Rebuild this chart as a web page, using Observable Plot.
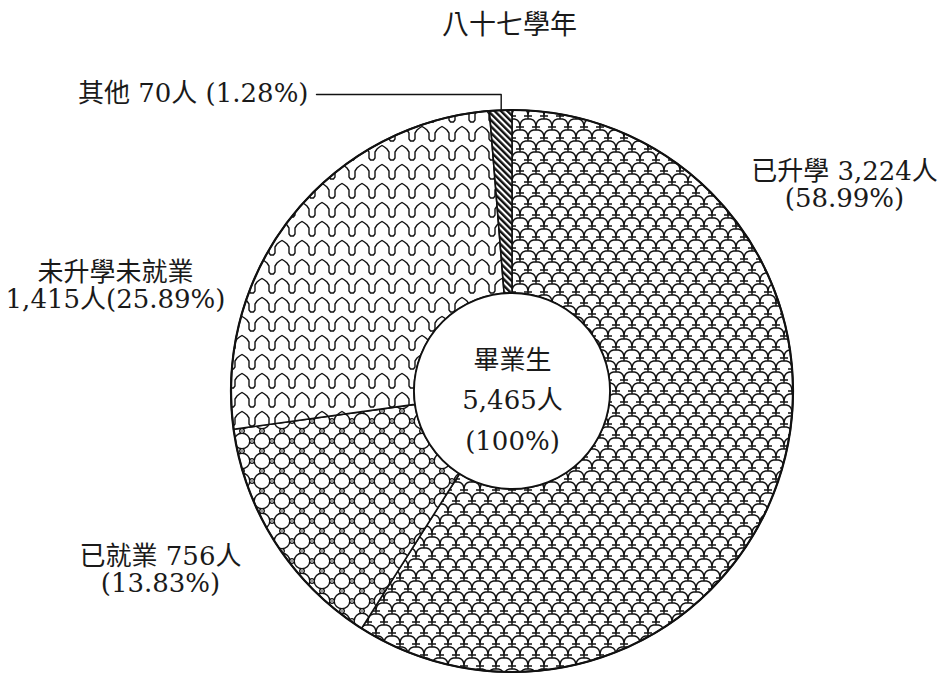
<!DOCTYPE html>
<html><head><meta charset="utf-8">
<script src="https://cdn.jsdelivr.net/npm/d3@7"></script>
<script src="https://cdn.jsdelivr.net/npm/@observablehq/plot@0.6"></script>
<style>body{margin:0;background:#fff}#chart{width:951px;height:675px}</style>
</head><body><div id="chart"></div>
<script>
// ---- data ----
const title = "八十七學年";
const categories = ["已升學", "已就業", "未升學未就業", "其他"];
const counts = [3224, 756, 1415, 70];
const centerName = "畢業生";
const unit = "人";

// ---- layout ----
const W = 951, H = 675;
const center = [512, 391];
const outerR = 281, innerR = 98;
const FONT = "'DejaVu Serif', 'Noto Sans CJK TC', serif";
const labelPos = {
  "已升學": {x: 844, y: 184, mode: "nameCount/pct"},
  "已就業": {x: 160, y: 569, mode: "nameCount/pct"},
  "未升學未就業": {x: 115, y: 285, mode: "name/countPct"},
  "其他": {x: 308, y: 93, mode: "oneLine"}
};

const total = d3.sum(counts);
const fmt = d3.format(",");
const pct = v => (v / total * 100).toFixed(2) + "%";
const rows = categories.map((c, i) => ({name: c, value: counts[i]}));

function labelText(r) {
  const p = labelPos[r.name];
  const n = fmt(r.value) + unit, q = "(" + pct(r.value) + ")";
  if (p.mode === "nameCount/pct") return `${r.name} ${n}\n${q}`;
  if (p.mode === "name/countPct") return `${r.name}\n${n}${q}`;
  return `${r.name} ${n} ${q}`;
}

const pie = d3.pie().sort(null).value(d => d.value);
const arcs = pie(rows);
const patternIds = ["pScale", "pRing", "pWave", "pStripe"];

function scaleUnit(cx, cy) {
  return `M${cx-8},${cy+11} Q${cx-8},${cy+4} ${cx-2.5},${cy+3} L${cx+2.5},${cy+3} Q${cx+8},${cy+4} ${cx+8},${cy+11} ` +
         `M${cx-4},${cy} L${cx+4},${cy} M${cx},${cy} L${cx},${cy+3}`;
}

function donutMark(index, scales) {
  const sx = scales && scales.x ? scales.x : (v => v);
  const sy = scales && scales.y ? scales.y : (v => v);
  const cx = sx(center[0]), cy = sy(center[1]);
  const R = sx(center[0] + outerR) - cx, r0 = sx(center[0] + innerR) - cx;
  const g = d3.create("svg:g");
  const defs = g.append("defs");
  // scales pattern
  const p1 = defs.append("pattern").attr("id", "pScale").attr("patternUnits", "userSpaceOnUse")
    .attr("width", 16).attr("height", 22);
  p1.append("rect").attr("width", 16).attr("height", 22).attr("fill", "white");
  p1.append("path").attr("d", [[8,0],[0,11],[16,11],[8,22],[0,-11],[16,-11],[8,-22]].map(([a,b]) => scaleUnit(a,b)).join(" "))
    .attr("fill", "none").attr("stroke", "#111").attr("stroke-width", 1.4);
  // ring pattern
  const p2 = defs.append("pattern").attr("id", "pRing").attr("patternUnits", "userSpaceOnUse")
    .attr("width", 20).attr("height", 20);
  p2.append("rect").attr("width", 20).attr("height", 20).attr("fill", "white");
  p2.append("circle").attr("cx", 10).attr("cy", 10).attr("r", 7.8).attr("fill", "none").attr("stroke", "#111").attr("stroke-width", 1.4);
  for (const [a, b] of [[0,10],[20,10],[10,0],[10,20]]) {
    p2.append("circle").attr("cx", a).attr("cy", b).attr("r", 2.3).attr("fill", "white").attr("stroke", "#111").attr("stroke-width", 1.3);
    p2.append("circle").attr("cx", a).attr("cy", b).attr("r", 0.8).attr("fill", "#111");
  }
  // wave pattern
  const p3 = defs.append("pattern").attr("id", "pWave").attr("patternUnits", "userSpaceOnUse")
    .attr("width", 20).attr("height", 19);
  p3.append("rect").attr("width", 20).attr("height", 19).attr("fill", "white");
  p3.append("path").attr("d", "M-3,14 L-1.5,16 L1.5,16 L3,14 L3,8 L5,5 L7.5,3 L10,1.5 L12.5,3 L15,5 L17,8 L17,14 L18.5,16 L21.5,16 L23,14")
    .attr("fill", "none").attr("stroke", "#111").attr("stroke-width", 1.4).attr("stroke-linejoin", "miter");
  // stripe pattern
  const p4 = defs.append("pattern").attr("id", "pStripe").attr("patternUnits", "userSpaceOnUse")
    .attr("width", 4.5).attr("height", 10).attr("patternTransform", "rotate(-45)");
  p4.append("rect").attr("width", 4.5).attr("height", 10).attr("fill", "white");
  p4.append("rect").attr("width", 2.4).attr("height", 10).attr("fill", "#111");

  const arc = d3.arc().innerRadius(r0).outerRadius(R);
  const gg = g.append("g").attr("transform", `translate(${cx},${cy})`);
  gg.selectAll("path.slice").data(arcs).join("path")
    .attr("d", arc)
    .attr("fill", (d, i) => `url(#${patternIds[i]})`)
    .attr("stroke", "#111").attr("stroke-width", 1.6).attr("stroke-linejoin", "round");
  gg.append("circle").attr("r", R).attr("fill", "none").attr("stroke", "#111").attr("stroke-width", 2.2);
  gg.append("circle").attr("r", r0).attr("fill", "white").attr("stroke", "#111").attr("stroke-width", 1.8);
  return g.node();
}

// leader line for the smallest slice
const other = arcs[3];
const mid = (other.startAngle + other.endAngle) / 2;
const tip = [center[0] + outerR * Math.sin(mid), center[1] - outerR * Math.cos(mid)];
const leader = [
  {x: labelPos["其他"].x + 8, y: labelPos["其他"].y + 1},
  {x: tip[0], y: labelPos["其他"].y + 1},
  {x: tip[0], y: tip[1]}
];

const sideLabels = rows.map(r => ({...r, text: labelText(r), ...labelPos[r.name]}));

const chart = Plot.plot({
  width: W, height: H,
  marginTop: 0, marginRight: 0, marginBottom: 0, marginLeft: 0,
  x: {domain: [0, W], axis: null},
  y: {domain: [0, H], reverse: true, axis: null},
  style: {background: "white", fontFamily: FONT, color: "#1a1a1a"},
  marks: [
    donutMark,
    Plot.line(leader, {x: "x", y: "y", stroke: "#111", strokeWidth: 1.4, curve: "linear"}),
    Plot.text(sideLabels.filter(d => d.mode !== "oneLine"), {
      x: "x", y: "y", text: "text", fontSize: 26, fill: "#1a1a1a", lineHeight: 1.06, textAnchor: "middle"
    }),
    Plot.text(sideLabels.filter(d => d.mode === "oneLine"), {
      x: "x", y: "y", text: "text", fontSize: 26, fill: "#1a1a1a", textAnchor: "end"
    }),
    Plot.text([{x: 509, y: 25, t: title}], {x: "x", y: "y", text: "t", fontSize: 27, fill: "#1a1a1a"}),
    Plot.text([{x: center[0], y: center[1] + 5, t: `${centerName}\n${fmt(total)}${unit}\n(100%)`}], {
      x: "x", y: "y", text: "t", fontSize: 26, lineHeight: 1.55, fill: "#1a1a1a"
    })
  ]
});
document.getElementById("chart").append(chart);
</script>
</body></html>
